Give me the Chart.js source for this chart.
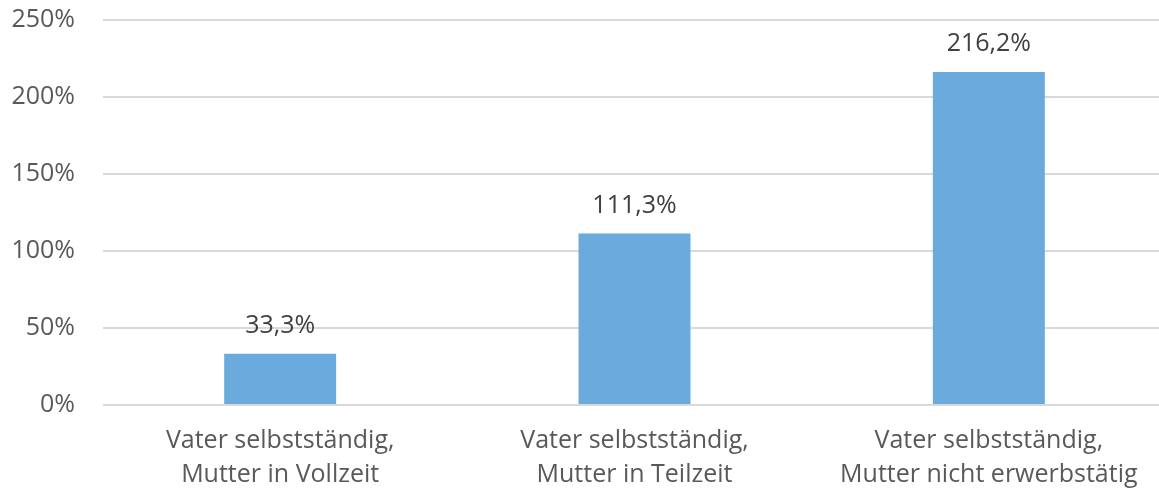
<!DOCTYPE html>
<html>
<head>
<meta charset="utf-8">
<script src="https://cdn.jsdelivr.net/npm/chart.js@4/dist/chart.umd.min.js"></script>
<style>
    html, body { margin: 0; padding: 0; background: #fff; overflow: hidden; }
    #wrap { width: 1166px; height: 493px; }
</style>
</head>
<body>
<div id="wrap"><canvas id="myChart"></canvas></div>
<script>
const categories = [
    ['Vater selbstständig,', 'Mutter in Vollzeit'],
    ['Vater selbstständig,', 'Mutter in Teilzeit'],
    ['Vater selbstständig,', 'Mutter nicht erwerbstätig']
];
const values = [33.3, 111.3, 216.2];
const yTicks = [0, 50, 100, 150, 200, 250];

const FONT = "'Open Sans', sans-serif";
const FSIZE = 25;

// draws the value above each bar
const barLabels = {
    id: 'barLabels',
    afterDatasetsDraw(chart) {
        const ctx = chart.ctx;
        const meta = chart.getDatasetMeta(0);
        ctx.save();
        ctx.font = FSIZE + 'px ' + FONT;
        ctx.fillStyle = '#404040';
        ctx.textAlign = 'center';
        ctx.textBaseline = 'middle';
        meta.data.forEach((bar, i) => {
            const txt = values[i].toFixed(1).replace('.', ',') + '%';
            ctx.fillText(txt, bar.x, bar.y - 28);
        });
        ctx.restore();
    }
};

document.addEventListener('DOMContentLoaded', () => {
    const ctx = document.getElementById('myChart').getContext('2d');

    new Chart(ctx, {
        type: 'bar',
        data: {
            labels: categories,
            datasets: [{
                data: values,
                backgroundColor: '#6aaadc',
                categoryPercentage: 1,
                barPercentage: 0.316
            }]
        },
        options: {
            responsive: true,
            maintainAspectRatio: false,
            animation: false,
            layout: { padding: { top: 20, right: 0, bottom: 0, left: 0 } },
            plugins: {
                legend: { display: false },
                tooltip: { enabled: false }
            },
            scales: {
                x: {
                    grid: { display: false, drawTicks: false },
                    border: { display: false },
                    ticks: {
                        color: '#595959',
                        padding: 19,
                        font: { family: FONT, size: FSIZE, lineHeight: 1.36 }
                    },
                    afterFit: (scale) => {
                        scale.height = 88;
                        scale.paddingLeft = 0;
                        scale.paddingRight = 0;
                    }
                },
                y: {
                    min: 0,
                    max: 250,
                    afterBuildTicks: (scale) => {
                        scale.ticks = yTicks.map(v => ({ value: v }));
                    },
                    grid: { color: '#d9d9d9', lineWidth: 2, drawTicks: false },
                    border: { display: false },
                    ticks: {
                        color: '#595959',
                        padding: 28,
                        font: { family: FONT, size: FSIZE },
                        callback: (v) => v + '%'
                    },
                    afterFit: (scale) => {
                        scale.width = 103;
                        scale.paddingTop = 0;
                        scale.paddingBottom = 0;
                    }
                }
            }
        },
        plugins: [barLabels]
    });
});
</script>
</body>
</html>
